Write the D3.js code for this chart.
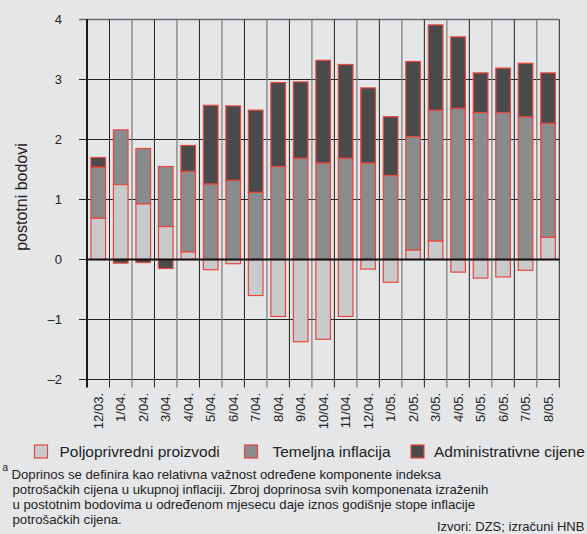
<!DOCTYPE html>
<html>
<head>
<meta charset="utf-8">
<script src="https://cdn.jsdelivr.net/npm/d3@7"></script>
<style>
  html, body { margin: 0; padding: 0; background: #e5e6e8; }
  svg { display: block; font-family: "Liberation Sans", Arial, Helvetica, sans-serif; }
</style>
</head>
<body>
<figure id="bar" style="margin:0"></figure>
<script>
// months (x categories)
const months = ["12/03.", "1/04.", "2/04.", "3/04.", "4/04.", "5/04.", "6/04.", "7/04.", "8/04.", "9/04.",
  "10/04.", "11/04.", "12/04.", "1/05.", "2/05.", "3/05.", "4/05.", "5/05.", "6/05.", "7/05.", "8/05."];

// contributions in percentage points
const poljoprivredni = [0.69, 1.25, 0.93, 0.55, 0.13, -0.17, -0.07, -0.60, -0.95, -1.37,
  -1.33, -0.95, -0.16, -0.38, 0.16, 0.31, -0.21, -0.31, -0.29, -0.18, 0.37];
const temeljna = [0.85, 0.91, 0.92, 1.00, 1.34, 1.26, 1.32, 1.12, 1.55, 1.69,
  1.61, 1.69, 1.61, 1.40, 1.89, 2.18, 2.52, 2.45, 2.45, 2.38, 1.90];
const administrativne = [0.16, -0.06, -0.05, -0.15, 0.43, 1.31, 1.24, 1.37, 1.40, 1.27,
  1.71, 1.56, 1.25, 0.98, 1.25, 1.42, 1.19, 0.66, 0.74, 0.89, 0.84];

const yTicks = [-2, -1, 0, 1, 2, 3, 4];
const seriesNames = ["Poljoprivredni proizvodi", "Temeljna inflacija", "Administrativne cijene"];
const seriesColors = ["#c9cacc", "#8a8b8d", "#4a4a4c"];

const footnote = [
  "Doprinos se definira kao relativna važnost određene komponente indeksa",
  "potrošačkih cijena u ukupnoj inflaciji. Zbroj doprinosa svih komponenata izraženih",
  "u postotnim bodovima u određenom mjesecu daje iznos godišnje stope inflacije",
  "potrošačkih cijena."
];

const W = 587, H = 534;
const plotL = 87, plotR = 559.3, plotT = 19.5, plotB = 379.5;
const redLine = "#e8463f";

const svg = d3.select("figure#bar")
  .append("svg")
  .attr("width", W)
  .attr("height", H);

svg.append("rect").attr("width", W).attr("height", H).attr("fill", "#e5e6e8");

const x = d3.scaleBand()
  .domain(months)
  .range([plotL, plotR])
  .paddingInner(0.35)
  .paddingOuter(0.175);

const y = d3.scaleLinear()
  .domain([-2, 4])
  .range([plotB, plotT]);

const step = x.step();

// horizontal grid + y ticks
svg.append("g")
  .selectAll("line")
  .data(yTicks.filter(d => d !== 0))
  .enter()
  .append("line")
  .attr("x1", plotL - 8)
  .attr("x2", plotR)
  .attr("y1", d => y(d))
  .attr("y2", d => y(d))
  .attr("stroke", d => d === 4 ? "#6e6e70" : "#222")
  .attr("stroke-width", d => d === 4 ? 1.5 : 1);

// vertical grid at band boundaries (extends below as tick marks)
svg.append("g")
  .selectAll("line")
  .data(d3.range(1, months.length + 1))
  .enter()
  .append("line")
  .attr("x1", i => plotL + i * step)
  .attr("x2", i => plotL + i * step)
  .attr("y1", plotT)
  .attr("y2", plotB + 8)
  .attr("stroke", i => (i % 2 === 1 || i === months.length) ? "#222" : "#808082")
  .attr("stroke-width", i => (i % 2 === 1 || i === months.length) ? 1 : 1.3);

// zero tick on the left
svg.append("line")
  .attr("x1", plotL - 8).attr("x2", plotL)
  .attr("y1", y(0)).attr("y2", y(0))
  .attr("stroke", "#222");

// stacked bars
const table = months.map((m, i) => ({
  month: m,
  p: poljoprivredni[i],
  t: temeljna[i],
  a: administrativne[i]
}));

const stack = d3.stack()
  .keys(["p", "t", "a"])
  .offset(d3.stackOffsetDiverging);

const layers = stack(table);

svg.append("g")
  .selectAll("g")
  .data(layers)
  .enter()
  .append("g")
  .attr("fill", (d, i) => seriesColors[i])
  .selectAll("rect")
  .data(d => d)
  .enter()
  .append("rect")
  .attr("x", d => x(d.data.month))
  .attr("y", d => y(Math.max(d[0], d[1])))
  .attr("width", x.bandwidth())
  .attr("height", d => Math.abs(y(d[0]) - y(d[1])))
  .attr("stroke", redLine)
  .attr("stroke-width", 1.2);

// left axis line
svg.append("line")
  .attr("x1", plotL).attr("x2", plotL)
  .attr("y1", plotT - 0.5).attr("y2", plotB + 8)
  .attr("stroke", "#1a1a1a")
  .attr("stroke-width", 2);

// zero line
svg.append("line")
  .attr("x1", plotL).attr("x2", plotR)
  .attr("y1", y(0)).attr("y2", y(0))
  .attr("stroke", "#111")
  .attr("stroke-width", 2.2);

// y tick labels
svg.append("g")
  .selectAll("text")
  .data(yTicks)
  .enter()
  .append("text")
  .attr("x", 62)
  .attr("y", d => y(d) + 4.5)
  .attr("text-anchor", "end")
  .attr("font-size", 13)
  .attr("fill", "#222")
  .text(d => d < 0 ? "\u2013" + Math.abs(d) : d);

// y axis title
svg.append("text")
  .attr("transform", "translate(26.5,197)rotate(-90)")
  .attr("text-anchor", "middle")
  .attr("font-size", 16)
  .attr("fill", "#222")
  .text("postotni bodovi");

// x labels
svg.append("g")
  .selectAll("text")
  .data(months)
  .enter()
  .append("text")
  .attr("transform", d => "translate(" + (x(d) + x.bandwidth() / 2 + 4.5) + ",393)rotate(-90)")
  .attr("text-anchor", "end")
  .attr("font-size", 13)
  .attr("fill", "#222")
  .text(d => d);

// legend
const legendBox = [34.5, 244.5, 411];
const legendText = [59.5, 272.5, 434];
const legend = svg.append("g")
  .selectAll("g")
  .data(seriesNames)
  .enter()
  .append("g");

legend.append("rect")
  .attr("x", (d, i) => legendBox[i])
  .attr("y", 445)
  .attr("width", 13).attr("height", 13)
  .attr("fill", (d, i) => seriesColors[i])
  .attr("stroke", redLine)
  .attr("stroke-width", 1.2);

legend.append("text")
  .attr("x", (d, i) => legendText[i])
  .attr("y", 456.5)
  .attr("font-size", 15.5)
  .attr("fill", "#222")
  .text(d => d);

// footnote
svg.append("text")
  .attr("x", 2.5).attr("y", 471)
  .attr("font-size", 10)
  .attr("fill", "#222")
  .text("a");

svg.append("g")
  .selectAll("text")
  .data(footnote)
  .enter()
  .append("text")
  .attr("x", (d, i) => i === 0 ? 11.5 : 12.5)
  .attr("y", (d, i) => 478.5 + i * 15.3)
  .attr("font-size", 13.2)
  .attr("fill", "#222")
  .text(d => d);

svg.append("text")
  .attr("x", 437).attr("y", 530.5)
  .attr("font-size", 13)
  .attr("fill", "#222")
  .text("Izvori: DZS; izračuni HNB");
</script>
</body>
</html>
